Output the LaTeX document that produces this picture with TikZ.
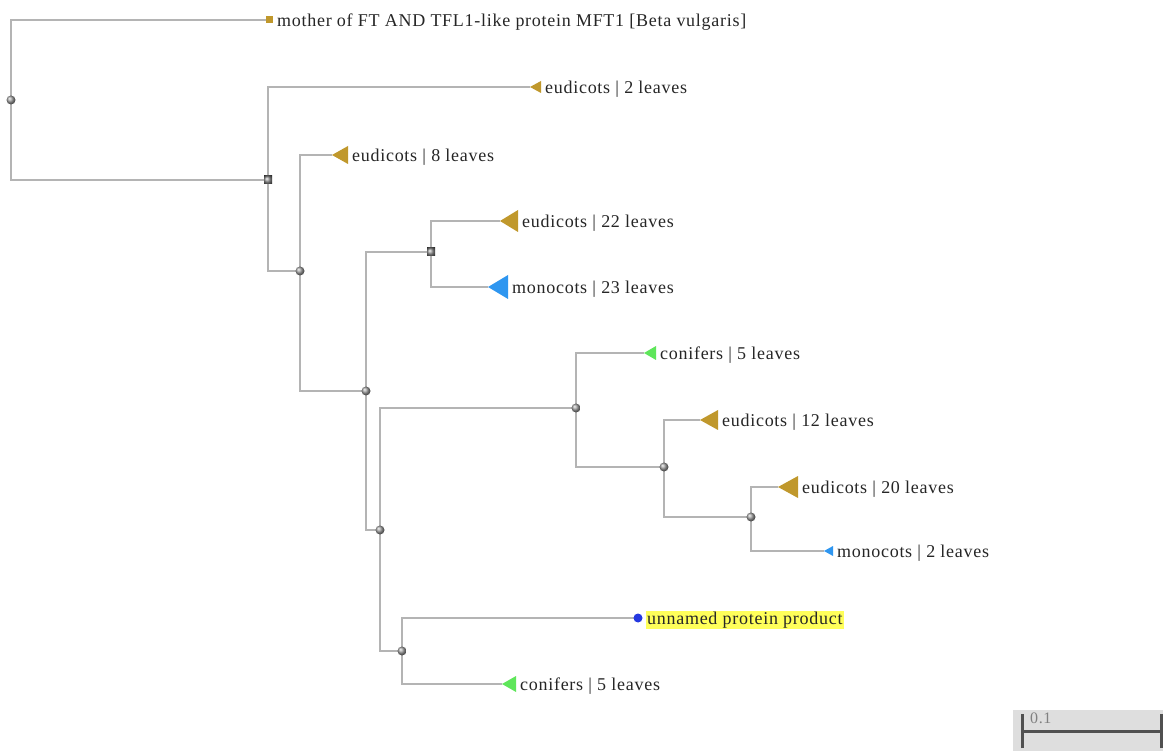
\documentclass[tikz,border=0pt]{standalone}
\usepackage{fontspec}
\setmainfont{Liberation Serif}[LetterSpace=4]
\usetikzlibrary{shapes.geometric}
\definecolor{edgec}{HTML}{B4B4B4}
\definecolor{eud}{HTML}{C0982C}
\definecolor{mono}{HTML}{2E96F0}
\definecolor{conif}{HTML}{5EE65A}
\definecolor{query}{HTML}{2438E0}
\definecolor{hilite}{HTML}{FFFF5A}
\definecolor{barbg}{HTML}{DEDEDE}
\definecolor{barfg}{HTML}{505050}
\definecolor{bartxt}{HTML}{808080}
\newcommand{\cladetri}[7]{%
  \coordinate (#1) at (#2,#3);
  \fill[#6] (#1) -- ++(#4,-#5/2) -- ++(0,#5) -- cycle;
  \node[lbl,anchor=base west] (#1-t) at ([shift={(#4+4,6.5)}]#1) {#7};
}
\begin{document}
\begin{tikzpicture}[x=1pt,y=-1pt,
  lbl/.style={font=\fontsize{18}{20}\selectfont, inner sep=0pt, text=black!85},
  edge/.style={draw=edgec, line width=1.2pt},
  inode/.style={circle, minimum size=9pt, inner sep=0pt, ball color=gray!75, draw=none},
  snode/.style={rectangle, minimum size=8pt, inner sep=0pt, ball color=gray!75, draw=none}]
\useasboundingbox (0,0) rectangle (1163,751);
\fill[white] (0,0) rectangle (1163,751);

% internal node positions
\coordinate (R) at (11,100);
\coordinate (A) at (268,180);
\coordinate (B) at (300,271);
\coordinate (C) at (366,391);
\coordinate (D) at (431,252);
\coordinate (E) at (380,530);
\coordinate (F) at (576,408);
\coordinate (G) at (664,467);
\coordinate (H) at (751,517);
\coordinate (I) at (402,651);

% leaves
\coordinate (L0) at (268,20);
\cladetri{L1}{530}{87}{11}{12}{eud}{eudicots | 2 leaves}
\cladetri{L2}{332}{155}{16}{18}{eud}{eudicots | 8 leaves}
\cladetri{L3}{500}{221}{18}{22}{eud}{eudicots | 22 leaves}
\cladetri{L4}{488}{287}{20}{24}{mono}{monocots | 23 leaves}
\cladetri{L5}{644}{353}{12}{14}{conif}{conifers | 5 leaves}
\cladetri{L6}{700}{420}{18}{20}{eud}{eudicots | 12 leaves}
\cladetri{L7}{778}{487}{20}{22}{eud}{eudicots | 20 leaves}
\cladetri{L8}{824}{551}{9}{10}{mono}{monocots | 2 leaves}
\cladetri{L10}{502}{684}{14}{16}{conif}{conifers | 5 leaves}
\coordinate (L9) at (638,618);

% edges
\draw[edge] (R) |- (L0);
\draw[edge] (R) |- (A);
\draw[edge] (A) |- (L1);
\draw[edge] (A) |- (B);
\draw[edge] (B) |- (L2);
\draw[edge] (B) |- (C);
\draw[edge] (C) |- (D);
\draw[edge] (C) |- (E);
\draw[edge] (D) |- (L3);
\draw[edge] (D) |- (L4);
\draw[edge] (E) |- (F);
\draw[edge] (E) |- (I);
\draw[edge] (F) |- (L5);
\draw[edge] (F) |- (G);
\draw[edge] (G) |- (L6);
\draw[edge] (G) |- (H);
\draw[edge] (H) |- (L7);
\draw[edge] (H) |- (L8);
\draw[edge] (I) |- (L9);
\draw[edge] (I) |- (L10);

% node markers
\node[inode] at (R) {};
\node[snode] at (A) {};
\node[inode] at (B) {};
\node[inode] at (C) {};
\node[snode] at (D) {};
\node[inode] at (E) {};
\node[inode] at (F) {};
\node[inode] at (G) {};
\node[inode] at (H) {};
\node[inode] at (I) {};

% special leaves
\fill[eud] ([shift={(-2,-3.5)}]L0) rectangle ([shift={(5,3.5)}]L0);
\node[lbl,anchor=base west] (L0-t) at ([shift={(9,6.5)}]L0) {mother of FT AND TFL1-like protein MFT1 [Beta vulgaris]};
\fill[query] (L9) circle (4.5);
\node[lbl,anchor=base west, fill=hilite, inner xsep=1pt, inner ysep=0pt, text depth=4pt, text height=14pt] (L9-t) at ([shift={(8,6.5)}]L9) {unnamed protein product};

% scale bar
\fill[barbg] (1013,710) rectangle (1163,751);
\coordinate (s1) at (1022,731);
\coordinate (s2) at (1161,731);
\draw[barfg, line width=3pt] (s1) -- (s2);
\draw[barfg, line width=3pt] ([yshift=-17]s1) -- ([yshift=17]s1);
\draw[barfg, line width=3pt] ([yshift=-17]s2) -- ([yshift=17]s2);
\node[font=\fontsize{16}{17}\selectfont, text=bartxt, anchor=base west, inner sep=0pt] (sl) at (1030,723) {0.1};
\end{tikzpicture}
\end{document}
